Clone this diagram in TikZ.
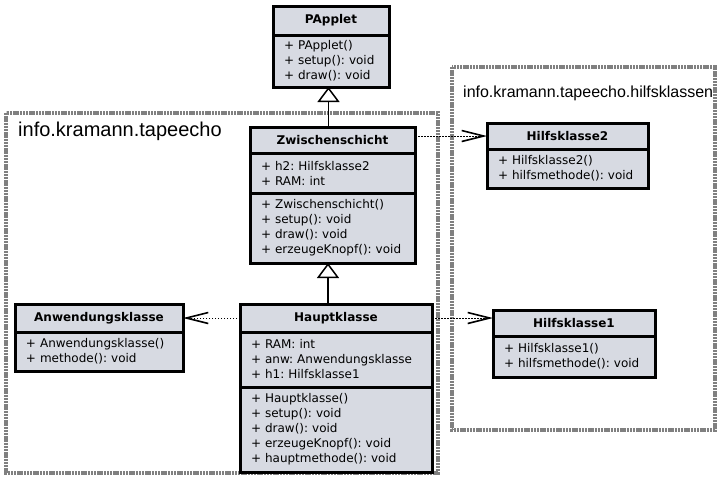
\documentclass[tikz,border=0pt]{standalone}
\usepackage{fontspec}
\setmainfont{DejaVu Sans}
\newfontfamily\pkgfont{Liberation Sans}
\usetikzlibrary{arrows.meta}
\frenchspacing

\definecolor{classfill}{RGB}{215,218,226}
\definecolor{pkggray}{RGB}{128,128,128}

\tikzset{
  ctitle/.style={draw, line width=3pt, fill=classfill, anchor=north west, inner sep=0pt, outer sep=0pt,
    font=\bfseries\fontsize{12}{15}\selectfont},
  cpart/.style={draw, line width=3pt, fill=classfill, anchor=north, inner xsep=11pt, inner ysep=0pt,
    outer sep=0pt, align=left, font=\fontsize{12}{15}\selectfont},
  pkgframe/.style={draw=pkggray, line width=4pt, dash pattern=on 2.4pt off 0.8pt},
  pkglabel/.style={anchor=base west, inner sep=0pt},
  inherit/.style={line width=1.5pt, -{Triangle[fill=white,length=15pt,width=22pt]}},
  uses/.style={line width=0.8pt, dash pattern=on 1.5pt off 1.5pt,
    -{Straight Barb[length=22pt,width=11pt,line width=1.6pt]}}
}

\begin{document}
\begin{tikzpicture}[x=1pt,y=-1pt]
  \useasboundingbox (0,0) rectangle (724,482);

  % packages
  \draw[pkgframe] (6,113) rectangle (438,473);
  \draw[pkgframe] (452,67) rectangle (715,430);
  \node[pkglabel, font=\pkgfont\fontsize{20}{24}\selectfont] (pkmain) at (18,136) {info.kramann.tapeecho};
  \node[pkglabel, font=\pkgfont\fontsize{16}{19}\selectfont] (pkhelp) at (463,97) {info.kramann.tapeecho.hilfsklassen};

  % classes
  \node[ctitle, minimum width=116pt, minimum height=29pt] (pa) at (273,6) {PApplet};
  \node[cpart, text width=94pt, minimum height=52pt] (pam) at (pa.south)
    {+ PApplet()\\+ setup(): void\\+ draw(): void};

  \node[ctitle, minimum width=165pt, minimum height=26pt] (zw) at (250,127) {Zwischenschicht};
  \node[cpart, text width=143pt, minimum height=40pt] (zwa) at (zw.south)
    {+ h2: Hilfsklasse2\\+ RAM: int};
  \node[cpart, text width=143pt, minimum height=70pt] (zwm) at (zwa.south)
    {+ Zwischenschicht()\\+ setup(): void\\+ draw(): void\\+ erzeugeKnopf(): void};

  \node[ctitle, minimum width=168pt, minimum height=28pt] (aw) at (15,304) {Anwendungsklasse};
  \node[cpart, text width=146pt, minimum height=39pt] (awm) at (aw.south)
    {+ Anwendungsklasse()\\+ methode(): void};

  \node[ctitle, minimum width=192pt, minimum height=28pt] (hk) at (240,304) {Hauptklasse};
  \node[cpart, text width=170pt, minimum height=55pt] (hka) at (hk.south)
    {+ RAM: int\\+ anw: Anwendungsklasse\\+ h1: Hilfsklasse1};
  \node[cpart, text width=170pt, minimum height=85pt] (hkm) at (hka.south)
    {+ Hauptklasse()\\+ setup(): void\\+ draw(): void\\+ erzeugeKnopf(): void\\+ hauptmethode(): void};

  \node[ctitle, minimum width=161pt, minimum height=26pt] (h2) at (487,123) {Hilfsklasse2};
  \node[cpart, text width=139pt, minimum height=39pt] (h2m) at (h2.south)
    {+ Hilfsklasse2()\\+ hilfsmethode(): void};

  \node[ctitle, minimum width=162pt, minimum height=26pt] (h1) at (493,310) {Hilfsklasse1};
  \node[cpart, text width=140pt, minimum height=41pt] (h1m) at (h1.south)
    {+ Hilfsklasse1()\\+ hilfsmethode(): void};

  % relations
  \coordinate (gen1) at ([xshift=-4pt]zw.north);
  \coordinate (gen2) at ([xshift=-8pt]hk.north);
  \draw[inherit] ([yshift=1.5pt]gen1) -- (gen1 |- pam.south);
  \draw[inherit] ([yshift=1.5pt]gen2) -- (gen2 |- zwm.south);
  \draw[uses] (zw.east |- h2.west) -- (h2.west);
  \draw[uses] (hk.west) -- (aw.east);
  \draw[uses] (hk.east) -- (hk.east -| h1.west);
\end{tikzpicture}
\end{document}
